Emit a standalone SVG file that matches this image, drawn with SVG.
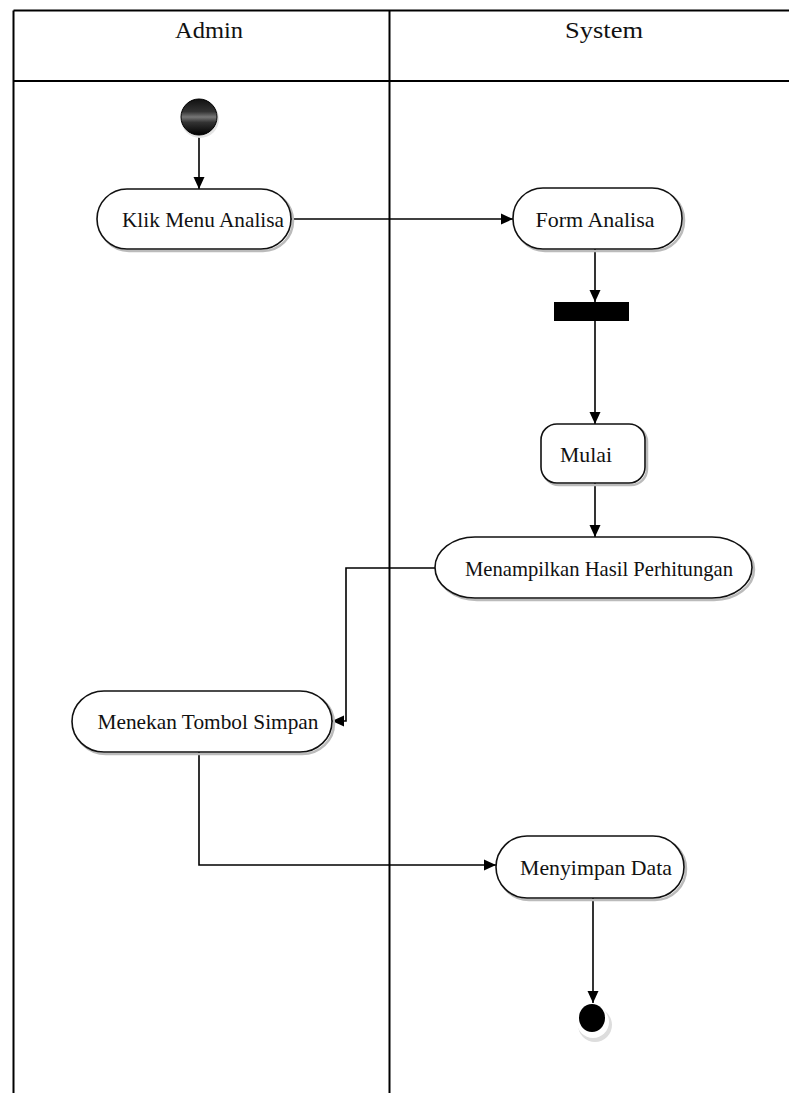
<svg xmlns="http://www.w3.org/2000/svg" width="789" height="1093" viewBox="0 0 789 1093">
  <style>
    .lane { stroke: #000; stroke-width: 2; fill: none; }
    .node { fill: #fff; stroke: #111; stroke-width: 1.6; }
    .shadow { fill: none; stroke: #bbb; stroke-width: 2.5; }
    .label { font-family: "Liberation Serif", "Times New Roman", serif; font-size: 22px; fill: #111; text-anchor: middle; }
    .head { font-family: "Liberation Serif", "Times New Roman", serif; font-size: 23px; fill: #111; text-anchor: middle; }
    .flow { stroke: #000; stroke-width: 1.6; fill: none; }
  </style>
  <defs>
    <marker id="arrow" viewBox="0 0 12 12" refX="12" refY="6" markerWidth="12" markerHeight="12" markerUnits="userSpaceOnUse" orient="auto">
      <path d="M0,0.5 L12,6 L0,11.5 Z" fill="#000"/>
    </marker>
    <linearGradient id="startFill" x1="0" y1="0" x2="0" y2="1">
      <stop offset="0" stop-color="#111"/>
      <stop offset="0.35" stop-color="#333"/>
      <stop offset="0.5" stop-color="#777"/>
      <stop offset="0.65" stop-color="#333"/>
      <stop offset="1" stop-color="#000"/>
    </linearGradient>
  </defs>

  <rect width="789" height="1093" fill="#fff"/>

  <!-- swimlanes -->
  <g id="lanes">
    <line class="lane" x1="13.5" y1="10.5" x2="789" y2="10.5"/>
    <line class="lane" x1="13.5" y1="81" x2="789" y2="81"/>
    <line class="lane" x1="13.5" y1="10.5" x2="13.5" y2="1093"/>
    <line class="lane" x1="389.5" y1="10.5" x2="389.5" y2="1093"/>
    <text class="head" x="209" y="38" textLength="68" lengthAdjust="spacingAndGlyphs">Admin</text>
    <text class="head" x="604" y="38" textLength="78" lengthAdjust="spacingAndGlyphs">System</text>
  </g>

  <!-- connectors -->
  <g id="connectors">
    <line class="flow" x1="199" y1="135" x2="199" y2="189" marker-end="url(#arrow)"/>
    <line class="flow" x1="291" y1="219" x2="513" y2="219" marker-end="url(#arrow)"/>
    <line class="flow" x1="595" y1="249" x2="595" y2="302" marker-end="url(#arrow)"/>
    <line class="flow" x1="595" y1="321" x2="595" y2="424" marker-end="url(#arrow)"/>
    <line class="flow" x1="595" y1="483" x2="595" y2="537" marker-end="url(#arrow)"/>
    <polyline class="flow" points="435,568 346,568 346,721 332,721" marker-end="url(#arrow)"/>
    <polyline class="flow" points="199,752 199,865 496,865" marker-end="url(#arrow)"/>
    <line class="flow" x1="593" y1="898" x2="593" y2="1003" marker-end="url(#arrow)"/>
  </g>

  <!-- initial node -->
  <g id="start">
    <circle cx="200" cy="119" r="19" fill="#e4e4e4"/>
    <circle cx="199" cy="117" r="18" fill="url(#startFill)" stroke="#000" stroke-width="1"/>
  </g>

  <g id="klik-menu-analisa">
    <rect class="shadow" x="99" y="191" width="194" height="60" rx="30"/>
    <rect class="node" x="97" y="189" width="194" height="60" rx="30"/>
    <text class="label" x="203" y="227" textLength="162" lengthAdjust="spacingAndGlyphs">Klik Menu Analisa</text>
  </g>

  <g id="form-analisa">
    <rect class="shadow" x="515" y="190" width="169" height="61" rx="30"/>
    <rect class="node" x="513" y="188" width="169" height="61" rx="30"/>
    <text class="label" x="595" y="227" textLength="119" lengthAdjust="spacingAndGlyphs">Form Analisa</text>
  </g>

  <g id="fork">
    <rect x="554" y="302" width="75" height="19" fill="#000"/>
  </g>

  <g id="mulai">
    <rect class="shadow" x="543" y="426" width="104" height="59" rx="16"/>
    <rect class="node" x="541" y="424" width="104" height="59" rx="16"/>
    <text class="label" x="586" y="462" textLength="52" lengthAdjust="spacingAndGlyphs">Mulai</text>
  </g>

  <g id="menampilkan-hasil-perhitungan">
    <rect class="shadow" x="437" y="539" width="317" height="61" rx="40" ry="30.5"/>
    <rect class="node" x="435" y="537" width="317" height="61" rx="40" ry="30.5"/>
    <text class="label" x="599" y="576" textLength="268" lengthAdjust="spacingAndGlyphs">Menampilkan Hasil Perhitungan</text>
  </g>

  <g id="menekan-tombol-simpan">
    <rect class="shadow" x="74" y="693" width="260" height="61" rx="32" ry="30.5"/>
    <rect class="node" x="72" y="691" width="260" height="61" rx="32" ry="30.5"/>
    <text class="label" x="208" y="729" textLength="221" lengthAdjust="spacingAndGlyphs">Menekan Tombol Simpan</text>
  </g>

  <g id="menyimpan-data">
    <rect class="shadow" x="498" y="838" width="188" height="62" rx="31"/>
    <rect class="node" x="496" y="836" width="188" height="62" rx="31"/>
    <text class="label" x="596" y="875" textLength="152" lengthAdjust="spacingAndGlyphs">Menyimpan Data</text>
  </g>

  <!-- final node -->
  <g id="end">
    <circle cx="595" cy="1025" r="17" fill="#ddd"/>
    <circle cx="593" cy="1022" r="16" fill="#fff"/>
    <ellipse cx="592" cy="1018" rx="13" ry="14" fill="#000"/>
  </g>
</svg>
